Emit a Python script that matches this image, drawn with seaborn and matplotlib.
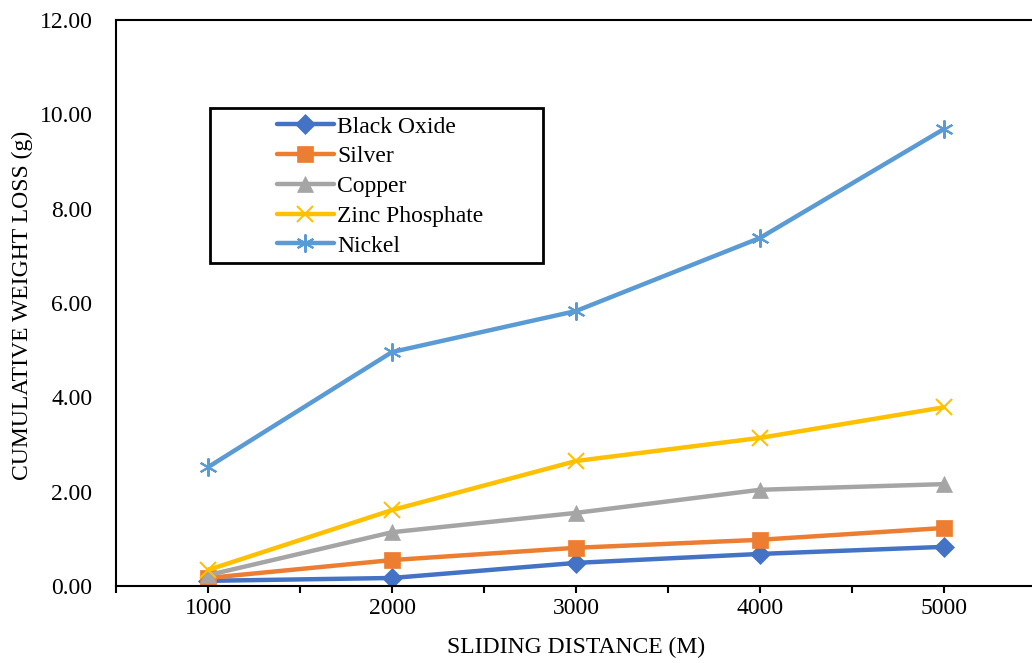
import matplotlib
matplotlib.use("Agg")
import matplotlib.pyplot as plt
import seaborn as sns
import pandas as pd
from matplotlib.patches import Rectangle
from matplotlib.ticker import FixedLocator, FormatStrFormatter

distance = ["1000", "2000", "3000", "4000", "5000"]
black_oxide = [0.11, 0.17, 0.49, 0.68, 0.83]
silver = [0.17, 0.55, 0.81, 0.98, 1.23]
copper = [0.23, 1.14, 1.55, 2.04, 2.16]
zinc_phosphate = [0.34, 1.61, 2.65, 3.14, 3.79]
nickel = [2.52, 4.96, 5.83, 7.38, 9.69]

series = {
    "Black Oxide": black_oxide,
    "Silver": silver,
    "Copper": copper,
    "Zinc Phosphate": zinc_phosphate,
    "Nickel": nickel,
}
colors = ["#4472C4", "#ED7D31", "#A5A5A5", "#FFC000", "#5B9BD5"]
markers = ["D", "s", "^", "x", (6, 2, 0)]
msizes = [10, 12, 12, 12, 13]

sns.set_theme(style="white")
plt.rcParams["font.family"] = ["Liberation Serif", "DejaVu Serif"]

fig = plt.figure(figsize=(10.32, 6.63), dpi=100)
W, H = 1032, 663
ax = fig.add_axes([116 / W, (H - 586) / H, 920 / W, 566 / H])

for (name, vals), c, m, ms in zip(series.items(), colors, markers, msizes):
    df = pd.DataFrame({"x": distance, "y": vals})
    sns.lineplot(data=df, x="x", y="y", ax=ax, color=c, marker=m, markersize=ms,
                 linewidth=3.2, markeredgecolor=c, markeredgewidth=1.5 if m in ("x", (6, 2, 0)) else 0.5,
                 label=name, sort=False)

ax.set_xlim(-0.5, 4.5)
ax.set_ylim(0, 12)
ax.set_yticks([0, 2, 4, 6, 8, 10, 12])
ax.yaxis.set_major_formatter(FormatStrFormatter("%.2f"))
ax.xaxis.set_minor_locator(FixedLocator([-0.5, 0.5, 1.5, 2.5, 3.5, 4.5]))
ax.tick_params(axis="x", which="both", bottom=True, direction="out", length=5, width=1.5,
               color="black", labelsize=17, pad=4)
ax.tick_params(axis="y", left=False, length=0, labelsize=17, pad=17)
for lab in ax.get_xticklabels():
    lab.set_color("black")
for lab in ax.get_yticklabels():
    lab.set_color("black")

for s in ax.spines.values():
    s.set_color("black")
    s.set_linewidth(1.5)

ax.set_xlabel("SLIDING DISTANCE (M)", fontsize=17, color="black")
ax.set_ylabel("CUMULATIVE WEIGHT LOSS (g)", fontsize=17, color="black")
ax.xaxis.set_label_coords((576 - 116) / 920, -(647 - 586) / 566)
ax.xaxis.label.set_va("center")
ax.yaxis.set_label_coords(-(116 - 22) / 920, (586 - 305) / 566)
ax.yaxis.label.set_va("center")

leg = ax.legend(loc="upper left", bbox_to_anchor=((277 - 116) / 920, (586 - 116) / 566),
                frameon=False, fontsize=17, borderpad=0, borderaxespad=0,
                handlelength=2.4, handletextpad=0.15, labelspacing=0.35)
for t in leg.get_texts():
    t.set_color("black")

rect = Rectangle(((210 - 116) / 920, (586 - 263) / 566), (543 - 210) / 920, (263 - 108) / 566,
                 transform=ax.transAxes, fill=False, edgecolor="black", linewidth=2, zorder=5)
ax.add_patch(rect)

fig.savefig("out.png", dpi=100)
